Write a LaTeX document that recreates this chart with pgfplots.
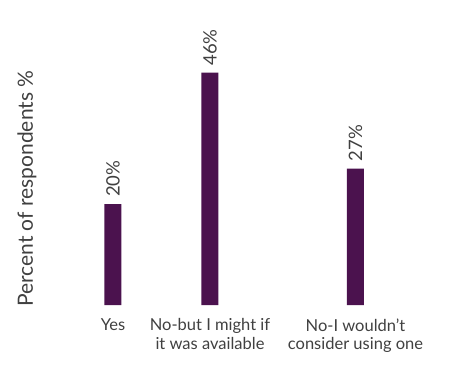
\documentclass[border=0pt]{standalone}
\usepackage{pgfplots}
\pgfplotsset{compat=1.18}
\usepackage{fontspec}
\setmainfont{Lato}
\definecolor{barpurple}{RGB}{75,18,78}
\definecolor{txtgray}{RGB}{64,64,64}
\begin{document}
\begin{tikzpicture}
\begin{axis}[
  scale only axis,
  width=388pt, height=277.75pt,
  xmin=-0.5, xmax=3.5, ymin=0, ymax=55,
  enlargelimits=false,
  axis line style={draw=none},
  major tick length=0pt,
  ytick=\empty,
  xtick={0,1,2.5},
  xticklabels={Yes,{No-but I might if\\it was available},{No-I wouldn't\\consider using one}},
  xticklabel style={align=center, font=\fontsize{16.5}{18.5}\selectfont, text=txtgray, yshift=-10pt},
  ybar, bar width=17pt,
  clip=false,
  point meta=explicit symbolic,
  nodes near coords,
  every node near coord/.append style={rotate=90, anchor=west, inner sep=0pt, inner xsep=7pt, font=\fontsize{18.5}{20}\selectfont, text=txtgray},
]
\addplot[fill=barpurple, draw=none] coordinates {(0,20)[20\%] (1,46)[46\%] (2.5,27)[27\%]};
\node[rotate=90, anchor=base west, inner sep=0pt, font=\fontsize{21}{24}\selectfont, text=txtgray] at ([xshift=-31.5pt,yshift=-2pt]rel axis cs:0,0) {Percent of respondents \%};
\end{axis}
\pgfresetboundingbox
\path[use as bounding box] ([xshift=-64.5pt,yshift=-65pt]current axis.south west) rectangle ++(464pt,370pt);
\end{tikzpicture}
\end{document}
